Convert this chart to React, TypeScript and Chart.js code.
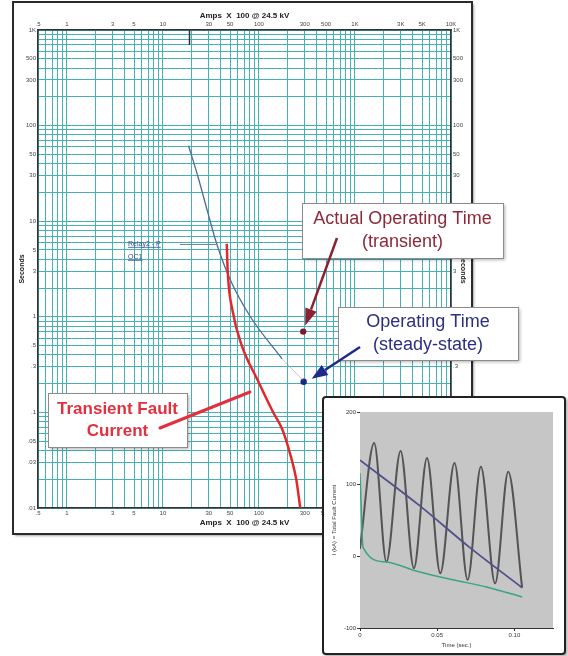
import React, { useEffect, useRef } from 'react';
import { Chart, registerables } from 'chart.js';

Chart.register(...registerables);

// ---------- Main time-current chart: Amps x 100 @ 24.5 kV vs Seconds ----------
const relayAmps = [18.5, 23.5, 29.2, 36.3, 49.7, 80.5, 174];
const relaySeconds = [61.5, 27.8, 12.5, 5.8, 2.5, 1.02, 0.364];
const relayTailAmps = [174, 289];
const relayTailSeconds = [0.364, 0.215];

const faultAmps = [46.2, 47.3, 53.4, 66.4, 95.3, 140, 174, 211, 244, 269];
const faultSeconds = [5.8, 2.96, 1.13, 0.497, 0.225, 0.101, 0.0674, 0.0369, 0.0202, 0.0101];

const transientOpAmps = [289];
const transientOpSeconds = [0.7];
const steadyOpAmps = [292];
const steadyOpSeconds = [0.209];

const xTickValues = [0.5, 1, 3, 5, 10, 30, 50, 100, 300, 500, 1000, 3000, 5000, 10000];
const xTickLabels = ['.5', '1', '3', '5', '10', '30', '50', '100', '300', '500', '1K', '3K', '5K', '10K'];
const yTickValues = [0.01, 0.03, 0.05, 0.1, 0.3, 0.5, 1, 3, 5, 10, 30, 50, 100, 300, 500, 1000];
const yTickLabels = ['.01', '.03', '.05', '.1', '.3', '.5', '1', '3', '5', '10', '30', '50', '100', '300', '500', '1K'];

// ---------- Inset: total fault current vs time ----------
const sineTime = [0, 0.0092, 0.0171, 0.0263, 0.0349, 0.0434, 0.052, 0.0612, 0.0697, 0.0783, 0.0875, 0.096, 0.105];
const sineCurrent = [10, 157, -8, 146, -17, 136, -24, 129, -33, 124, -38, 117, -44];
const dcTime = [0, 0.002, 0.016, 0.038, 0.06, 0.082, 0.105];
const dcCurrent = [115, 12, -8, -22, -33, -43, -57];
const rmsTime = [0, 0.038, 0.071, 0.105];
const rmsCurrent = [133, 71, 12, -44];
const insetTimeTicks = [0, 0.05, 0.1];
const insetTimeLabels = ['0', '0.05', '0.10'];
const insetCurrentTicks = [-100, 0, 100, 200];
const insetCurrentLabels = ['-100', '0', '100', '200'];

const FONT = "'Liberation Sans', Arial, sans-serif";
const GRID = '#47b0b5';

function logGrid(min: number, max: number): number[] {
  const out: number[] = [];
  for (let e = -3; e <= 5; e++) {
    for (let n = 1; n <= 9; n++) {
      const v = +(n * Math.pow(10, e)).toPrecision(6);
      if (v >= min * 0.999 && v <= max * 1.001) out.push(v);
    }
  }
  return out;
}

function lookup(values: number[], labels: string[], v: number) {
  for (let i = 0; i < values.length; i++) {
    if (Math.abs(values[i] - v) <= Math.abs(v) * 1e-6 + 1e-12) return labels[i];
  }
  return '';
}

const pts = (xs: number[], ys: number[]) => xs.map((x, i) => ({ x, y: ys[i] }));

function drawBox(ctx: CanvasRenderingContext2D, x: number, y: number, w: number, h: number,
  lines: string[], color: string, font: string, lineGap: number) {
  ctx.save();
  ctx.shadowColor = 'rgba(0,0,0,0.3)';
  ctx.shadowBlur = 3;
  ctx.shadowOffsetX = 2;
  ctx.shadowOffsetY = 2;
  ctx.fillStyle = '#ffffff';
  ctx.fillRect(x, y, w, h);
  ctx.restore();
  ctx.save();
  ctx.strokeStyle = '#8c8c8c';
  ctx.lineWidth = 1;
  ctx.strokeRect(x + 0.5, y + 0.5, w, h);
  ctx.fillStyle = color;
  ctx.font = font;
  ctx.textAlign = 'center';
  ctx.textBaseline = 'middle';
  const cy = y + h / 2 - (lineGap * (lines.length - 1)) / 2;
  lines.forEach((t, i) => ctx.fillText(t, x + w / 2, cy + i * lineGap));
  ctx.restore();
}

function drawArrow(ctx: CanvasRenderingContext2D, x1: number, y1: number, x2: number, y2: number,
  color: string, width: number, headLen: number, headW: number) {
  const a = Math.atan2(y2 - y1, x2 - x1);
  const bx = x2 - headLen * Math.cos(a);
  const by = y2 - headLen * Math.sin(a);
  ctx.save();
  ctx.strokeStyle = color;
  ctx.lineWidth = width;
  ctx.beginPath();
  ctx.moveTo(x1, y1);
  ctx.lineTo(bx, by);
  ctx.stroke();
  ctx.fillStyle = color;
  ctx.beginPath();
  ctx.moveTo(x2, y2);
  ctx.lineTo(bx + (headW / 2) * Math.sin(a), by - (headW / 2) * Math.cos(a));
  ctx.lineTo(bx - (headW / 2) * Math.sin(a), by + (headW / 2) * Math.cos(a));
  ctx.closePath();
  ctx.fill();
  ctx.restore();
}

const tccDecor = {
  id: 'tccDecor',
  beforeDraw(chart: any) {
    const ctx = chart.ctx as CanvasRenderingContext2D;
    ctx.save();
    ctx.shadowColor = 'rgba(0,0,0,0.35)';
    ctx.shadowBlur = 2;
    ctx.shadowOffsetX = 2;
    ctx.shadowOffsetY = 2;
    ctx.fillStyle = '#ffffff';
    ctx.fillRect(13, 2, 459, 532);
    ctx.restore();
    ctx.save();
    ctx.strokeStyle = '#2a2a2a';
    ctx.lineWidth = 2;
    ctx.strokeRect(13, 2, 459, 532);
    ctx.restore();
  },
  afterDraw(chart: any) {
    const ctx = chart.ctx as CanvasRenderingContext2D;
    const xs = chart.scales.x;
    const ys = chart.scales.y;
    const area = chart.chartArea;
    const px = (v: number) => xs.getPixelForValue(v);
    const py = (v: number) => ys.getPixelForValue(v);

    // small marker at relay pickup on top axis
    ctx.save();
    ctx.strokeStyle = '#333';
    ctx.lineWidth = 1.5;
    ctx.beginPath();
    ctx.moveTo(Math.round(px(relayAmps[0])) + 0.5, area.top);
    ctx.lineTo(Math.round(px(relayAmps[0])) + 0.5, area.top + 15);
    ctx.stroke();
    ctx.restore();

    // Relay label + leader
    const ly = py(relaySeconds[3]);
    const lx = px(relayAmps[3]);
    ctx.save();
    ctx.strokeStyle = '#7383a8';
    ctx.lineWidth = 1;
    ctx.beginPath();
    ctx.moveTo(180, Math.round(ly) + 0.5);
    ctx.lineTo(lx, Math.round(ly) + 0.5);
    ctx.stroke();
    ctx.fillStyle = '#3a4c86';
    ctx.font = `7px ${FONT}`;
    ctx.textAlign = 'left';
    ctx.textBaseline = 'alphabetic';
    const t1 = 'Relay2 - P';
    const t2 = 'OC1';
    ctx.fillText(t1, 128, ly + 2);
    ctx.fillText(t2, 128, ly + 15);
    ctx.strokeStyle = '#3a4c86';
    ctx.lineWidth = 0.8;
    ctx.beginPath();
    ctx.moveTo(128, ly + 3.5);
    ctx.lineTo(128 + ctx.measureText(t1).width, ly + 3.5);
    ctx.moveTo(128, ly + 16.5);
    ctx.lineTo(128 + ctx.measureText(t2).width, ly + 16.5);
    ctx.stroke();
    ctx.restore();

    // Transient fault current callout
    drawBox(ctx, 48, 393, 139, 54, ['Transient Fault', 'Current'], '#e2303e', `bold 17px ${FONT}`, 22);
    ctx.save();
    ctx.strokeStyle = '#e2303e';
    ctx.lineWidth = 3;
    ctx.lineCap = 'round';
    ctx.beginPath();
    ctx.moveTo(160, 428);
    ctx.lineTo(250, 392);
    ctx.stroke();
    ctx.restore();

    // Actual operating time callout
    drawBox(ctx, 302, 203, 201, 55, ['Actual Operating Time', '(transient)'], '#8c2838', `18px ${FONT}`, 23);
    drawArrow(ctx, 337, 238, px(transientOpAmps[0]) + 2, py(transientOpSeconds[0]) - 6, '#8a2232', 2.5, 17, 12);

    // Operating time (steady-state) callout
    drawBox(ctx, 338, 307, 180, 53, ['Operating Time', '(steady-state)'], '#2b2f7e', `18px ${FONT}`, 23);
    drawArrow(ctx, 360, 347, px(steadyOpAmps[0]) + 8, py(steadyOpSeconds[0]) - 3, '#1f2a8a', 2.5, 16, 12);
  },
};

const insetBg = {
  id: 'insetBg',
  beforeDatasetsDraw(chart: any) {
    const { ctx, chartArea: a } = chart;
    ctx.save();
    ctx.fillStyle = '#c6c6c6';
    ctx.fillRect(a.left, a.top, a.right - a.left, a.bottom - a.top);
    ctx.restore();
  },
};

export default function App() {
  const mainRef = useRef<HTMLCanvasElement>(null);
  const insetRef = useRef<HTMLCanvasElement>(null);

  useEffect(() => {
    const xGrid = logGrid(0.5, 10000);
    const yGrid = logGrid(0.01, 1000);
    const tickFont = { size: 6, family: FONT };

    const xAxis = (position: string, showGrid: boolean, height: number, titlePad: any) => ({
      type: 'logarithmic',
      position,
      min: 0.5,
      max: 10000,
      afterBuildTicks: (s: any) => { s.ticks = xGrid.map((value) => ({ value })); },
      afterFit: (s: any) => { s.height = height; },
      grid: { display: showGrid, color: GRID, lineWidth: 1, drawTicks: false },
      border: { display: true, color: '#333', width: 1.5 },
      ticks: {
        autoSkip: false, maxRotation: 0, minRotation: 0, padding: 2, color: '#444', font: tickFont,
        callback: (v: number) => lookup(xTickValues, xTickLabels, v),
      },
      title: {
        display: true, text: 'Amps  X  100 @ 24.5 kV', color: '#222',
        font: { size: 8, weight: 'bold', family: FONT }, padding: titlePad,
      },
    });

    const yAxis = (position: string, showGrid: boolean, width: number, titlePad: any) => ({
      type: 'logarithmic',
      position,
      min: 0.01,
      max: 1000,
      afterBuildTicks: (s: any) => { s.ticks = yGrid.map((value) => ({ value })); },
      afterFit: (s: any) => { s.width = width; },
      grid: { display: showGrid, color: GRID, lineWidth: 1, drawTicks: false },
      border: { display: true, color: '#333', width: 1.5 },
      ticks: {
        autoSkip: false, padding: 2, color: '#444', font: tickFont,
        callback: (v: number) => lookup(yTickValues, yTickLabels, v),
      },
      title: {
        display: true, text: 'Seconds', color: '#222',
        font: { size: 7, weight: 'bold', family: FONT }, padding: titlePad,
      },
    });

    const main = new Chart(mainRef.current!, {
      type: 'scatter',
      data: {
        datasets: [
          {
            data: pts(faultAmps, faultSeconds), showLine: true, borderColor: '#e3282c',
            borderWidth: 2.5, pointRadius: 0, cubicInterpolationMode: 'monotone',
          },
          {
            data: pts(relayAmps, relaySeconds), showLine: true, borderColor: '#4b6b9c',
            borderWidth: 1.3, pointRadius: 0, cubicInterpolationMode: 'monotone',
          },
          {
            data: pts(relayTailAmps, relayTailSeconds), showLine: true, borderColor: 'rgba(150,155,170,0.55)',
            borderWidth: 1, pointRadius: 0,
          },
          {
            data: pts(transientOpAmps, transientOpSeconds), showLine: false,
            pointRadius: 3.2, backgroundColor: '#7a1c2a', borderColor: '#7a1c2a', borderWidth: 0,
          },
          {
            data: pts(steadyOpAmps, steadyOpSeconds), showLine: false,
            pointRadius: 3.2, backgroundColor: '#1b2680', borderColor: '#1b2680', borderWidth: 0,
          },
        ],
      } as any,
      options: {
        responsive: false,
        animation: false,
        events: [],
        layout: { padding: { left: 14, right: 96, top: 3, bottom: 122 } },
        plugins: { legend: { display: false }, tooltip: { enabled: false } },
        scales: {
          x: xAxis('bottom', true, 26, { top: 0, bottom: 6 }),
          x2: xAxis('top', false, 27, { top: 8, bottom: 0 }),
          y: yAxis('left', true, 24, { top: 4, bottom: 0 }),
          y2: yAxis('right', false, 21, { top: 5, bottom: 0 }),
        } as any,
      },
      plugins: [tccDecor],
    });

    const insetFont = { size: 6, family: FONT };
    const inset = new Chart(insetRef.current!, {
      type: 'scatter',
      data: {
        datasets: [
          {
            data: pts(dcTime, dcCurrent), showLine: true, borderColor: '#3aa486', borderWidth: 1.5,
            pointRadius: 0, cubicInterpolationMode: 'monotone',
          },
          {
            data: pts(rmsTime, rmsCurrent), showLine: true, borderColor: '#50508a', borderWidth: 1.8,
            pointRadius: 0, cubicInterpolationMode: 'monotone',
          },
          {
            data: pts(sineTime, sineCurrent), showLine: true, borderColor: '#545454', borderWidth: 2,
            pointRadius: 0, cubicInterpolationMode: 'monotone',
          },
        ],
      } as any,
      options: {
        responsive: false,
        animation: false,
        events: [],
        layout: { padding: { left: 0, top: 14, right: 11, bottom: 0 } },
        plugins: { legend: { display: false }, tooltip: { enabled: false } },
        scales: {
          x: {
            type: 'linear', min: 0, max: 0.125,
            afterBuildTicks: (s: any) => { s.ticks = insetTimeTicks.map((value) => ({ value })); },
            afterFit: (s: any) => { s.height = 25; },
            grid: { display: true, drawOnChartArea: false, tickLength: 3, color: '#333' },
            border: { display: true, color: '#333', width: 1 },
            ticks: {
              autoSkip: false, maxRotation: 0, padding: 1, color: '#333', font: insetFont,
              callback: (v: number) => lookup(insetTimeTicks, insetTimeLabels, v),
            },
            title: { display: true, text: 'Time (sec.)', color: '#333', font: insetFont, padding: { top: 0, bottom: 4 } },
          },
          y: {
            type: 'linear', min: -100, max: 200,
            afterBuildTicks: (s: any) => { s.ticks = insetCurrentTicks.map((value) => ({ value })); },
            afterFit: (s: any) => { s.width = 36; },
            grid: { display: true, drawOnChartArea: false, tickLength: 3, color: '#333' },
            border: { display: true, color: '#333', width: 1 },
            ticks: {
              autoSkip: false, padding: 1, color: '#333', font: insetFont,
              callback: (v: number) => lookup(insetCurrentTicks, insetCurrentLabels, v),
            },
            title: {
              display: true, text: 'I (kA) = Total Fault Current', color: '#333', font: insetFont,
              padding: { top: 7, bottom: 0 },
            },
          },
        } as any,
      },
      plugins: [insetBg],
    });

    return () => {
      main.destroy();
      inset.destroy();
    };
  }, []);

  return (
    <div style={{ position: 'absolute', left: 0, top: 0, width: 568, height: 656, background: '#fff', overflow: 'hidden' }}>
      <canvas ref={mainRef} width={568} height={656} style={{ position: 'absolute', left: 0, top: 0, width: 568, height: 656 }} />
      <div
        style={{
          position: 'absolute', left: 322, top: 396, width: 240, height: 255,
          border: '2px solid #222', borderRadius: 4, background: '#fff',
          boxShadow: '2px 2px 3px rgba(0,0,0,0.3)',
        }}
      >
        <canvas ref={insetRef} width={240} height={255} style={{ display: 'block', width: 240, height: 255 }} />
      </div>
    </div>
  );
}
